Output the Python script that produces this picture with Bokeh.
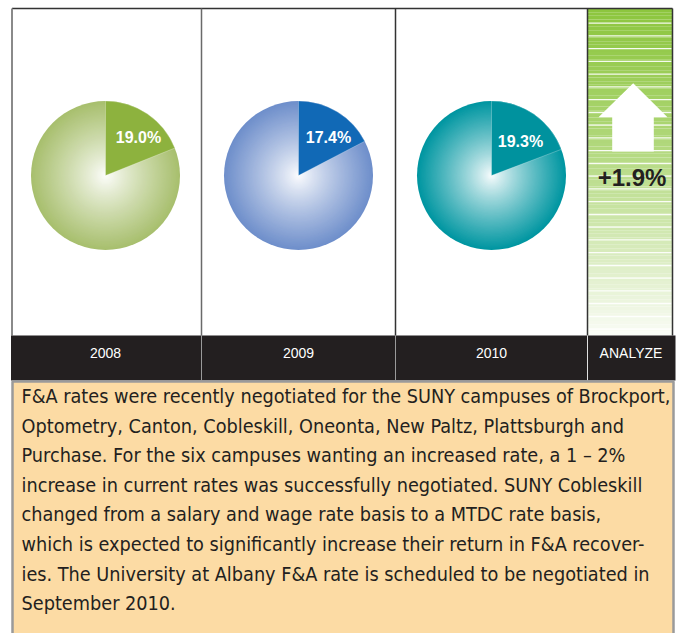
from bokeh.plotting import figure
from bokeh.models import Range1d
from bokeh.core.properties import value
from bokeh.embed import file_html
from bokeh.resources import INLINE

# ---- data ----
years = ["2008", "2009", "2010"]
rates = [19.0, 17.4, 19.3]
rate_labels = ["19.0%", "17.4%", "19.3%"]
change_label = "+1.9%"
panel_label = "ANALYZE"
body_lines = [
    "F&A rates were recently negotiated for the SUNY campuses of Brockport,",
    "Optometry, Canton, Cobleskill, Oneonta, New Paltz, Plattsburgh and",
    "Purchase. For the six campuses wanting an increased rate, a 1 \u2013 2%",
    "increase in current rates was successfully negotiated. SUNY Cobleskill",
    "changed from a salary and wage rate basis to a MTDC rate basis,",
    "which is expected to significantly increase their return in F&A recover-",
    "ies. The University at Albany F&A rate is scheduled to be negotiated in",
    "September 2010.",
]

# ---- styles ----
W, H = 678, 633
edge_cols = [(168, 191, 110), (111, 143, 203), (0, 150, 161)]
slice_cols = ["#8DB23E", "#1169B6", "#00929E"]
col_centers = [105, 298, 491]
pie_r = 74.5
pie_cy = 175

def Y(s):
    return H - s

def hexc(c):
    return "#%02x%02x%02x" % tuple(int(round(v)) for v in c)

def mix(a, b, t):
    return tuple(a[i] + (b[i] - a[i]) * t for i in range(3))

p = figure(width=W, height=H, x_range=Range1d(0, W), y_range=Range1d(0, H),
           output_backend="svg", toolbar_location=None, min_border=0)
p.axis.visible = False
p.grid.visible = False
p.outline_line_color = None
p.background_fill_color = "white"
p.border_fill_color = "white"

# right green gradient panel
n = 90
top, bot = 8, 335
ys0, ys1, cols = [], [], []
g_top, g_bot = (141, 198, 63), (250, 252, 246)
for i in range(n):
    a = top + (bot - top) * i / n
    b = top + (bot - top) * (i + 1) / n
    t = ((i + 0.5) / n) ** 1.25
    ys0.append(Y(b)); ys1.append(Y(a)); cols.append(hexc(mix(g_top, g_bot, t)))
p.quad(left=587, right=672, bottom=ys0, top=ys1, fill_color=cols, line_color=None)
stripe_y = [Y(22.7 + 12.75 * k) for k in range(25)]
p.segment(x0=588, x1=671, y0=stripe_y, y1=stripe_y, line_color="white", line_width=1.3, line_alpha=0.9)

# arrow
ax = [632.7, 667, 653.3, 653.3, 611.7, 611.7, 598]
ay = [82.7, 116.7, 116.7, 151, 151, 116.7, 116.7]
p.patch(ax, [Y(v) for v in ay], fill_color="white", line_color=None)
p.text(x=[631.5], y=[Y(177)], text=[change_label], text_font=value("Liberation Sans"),
       text_font_style="bold", text_font_size="24px", text_color="#231F20",
       text_align="center", text_baseline="middle")

# pies
for i, (cx, v) in enumerate(zip(col_centers, rates)):
    N = 60
    radii, cc = [], []
    for k in range(N):
        t = 1 - k / N
        radii.append(pie_r * t)
        cc.append(hexc(mix((255, 255, 255), edge_cols[i], t ** 0.85)))
    p.circle(x=[cx] * N, y=[Y(pie_cy)] * N, radius=radii, fill_color=cc, line_color=None)
    p.wedge(x=[cx], y=[Y(pie_cy)], radius=pie_r, start_angle=90 - 3.6 * v, end_angle=90,
            start_angle_units="deg", end_angle_units="deg", direction="anticlock",
            fill_color=slice_cols[i], line_color="white", line_alpha=0.35, line_width=0.8)

p.text(x=[138, 328, 520], y=[Y(137), Y(137), Y(141)], text=rate_labels,
       text_font=value("Liberation Sans"), text_font_style="bold", text_font_size="16px",
       text_color="white", text_align="center", text_baseline="middle")

# frame lines
p.segment(x0=[11.5], x1=[672], y0=[Y(8)], y1=[Y(8)], line_color="#333333", line_width=1.5)
p.segment(x0=[11.5], x1=[11.5], y0=[Y(8)], y1=[Y(335)], line_color="#8a8a8a", line_width=2)
p.segment(x0=[201, 395, 587, 672], x1=[201, 395, 587, 672], y0=[Y(8)] * 4, y1=[Y(335)] * 4,
          line_color=["#6a6a6a", "#333333", "#333333", "#333333"], line_width=1.5)

# dark label bar
p.quad(left=[10.5], right=[675], bottom=[Y(380)], top=[Y(335)], fill_color="#231F20", line_color=None)
p.segment(x0=[201, 395, 587], x1=[201, 395, 587], y0=[Y(335)] * 3, y1=[Y(380)] * 3,
          line_color=["#9a9a9a", "#9a9a9a", "#e0e0e0"], line_width=1)
p.text(x=col_centers + [630.5], y=[Y(352)] * 4, text=years + [panel_label],
       text_font=value("Liberation Sans"), text_font_size="14px", text_color="white",
       text_align="center", text_baseline="middle")

# text box
p.quad(left=[12], right=[673], bottom=[Y(640)], top=[Y(381)], fill_color="#FCDBA4",
       line_color="#9a9a9a", line_width=2.5)
p.text(x=[21] * len(body_lines), y=[Y(396 + 29.6 * k) for k in range(len(body_lines))],
       text=body_lines, text_font=value("DejaVu Sans Condensed, sans-serif"), text_font_size="19.7px",
       text_color="#231F20", text_align="left", text_baseline="middle")

open("out.html", "w").write(file_html(p, INLINE))
